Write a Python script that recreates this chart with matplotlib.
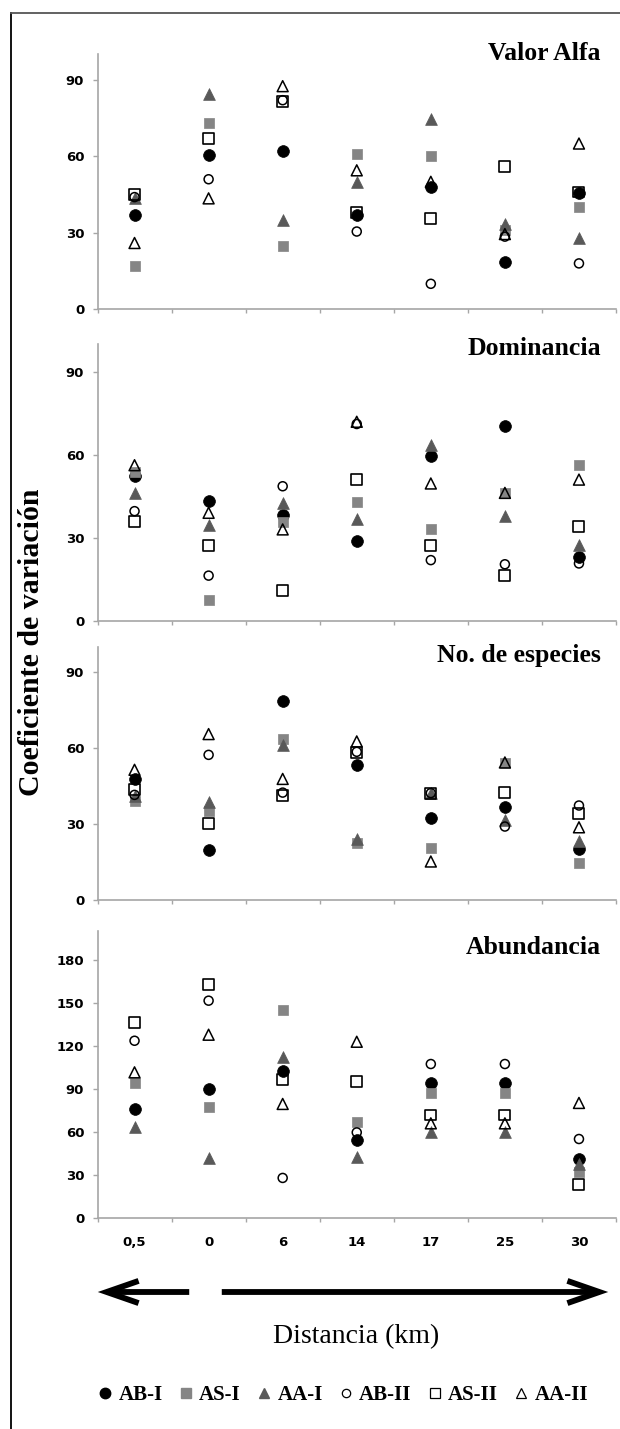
import matplotlib
matplotlib.use("Agg")
import matplotlib.pyplot as plt
from matplotlib.lines import Line2D
from matplotlib.patches import FancyArrowPatch

# ---------------- data ----------------
categories = ['0,5', '0', '6', '14', '17', '25', '30']
series = ['AB-I', 'AS-I', 'AA-I', 'AB-II', 'AS-II', 'AA-II']

# Valor Alfa (rows follow `series`)
alfa_vals = [
    [37.0, 60.5, 62.0, 37.0, 48.0, 18.5, 45.5],   # AB-I
    [17.0, 73.0, 25.0, 61.0, 60.0, 31.0, 40.0],   # AS-I
    [43.5, 84.5, 35.0, 50.0, 74.5, 33.5, 28.0],   # AA-I
    [44.0, 51.0, 82.0, 30.5, 10.0, 28.5, 18.0],   # AB-II
    [45.0, 67.0, 81.5, 38.0, 35.5, 56.0, 46.0],   # AS-II
    [26.0, 43.5, 87.5, 54.5, 50.0, 29.5, 65.0],   # AA-II
]
# Dominancia
dom_vals = [
    [52.5, 43.3, 38.3, 28.9, 59.6, 70.4, 23.2],
    [53.9, 7.6, 35.9, 43.1, 33.4, 46.3, 56.3],
    [46.1, 34.7, 42.7, 36.7, 63.5, 37.9, 27.4],
    [39.7, 16.4, 48.7, 71.2, 22.0, 20.5, 20.8],
    [35.9, 27.2, 10.9, 51.1, 27.2, 16.6, 34.1],
    [56.3, 39.1, 33.1, 72.0, 49.7, 46.3, 51.1],
]
# No. de especies
esp_vals = [
    [47.8, 19.8, 78.4, 53.4, 32.3, 36.9, 20.0],
    [38.9, 35.3, 63.6, 22.7, 20.4, 54.0, 14.5],
    [41.0, 38.5, 61.3, 24.0, 42.4, 31.6, 23.1],
    [41.5, 57.3, 42.4, 58.5, 42.2, 29.0, 37.3],
    [43.7, 30.3, 41.1, 58.4, 42.2, 42.6, 34.3],
    [51.4, 65.5, 47.8, 62.6, 15.2, 54.3, 28.7],
]
# Abundancia
abu_vals = [
    [76.1, 90.0, 102.8, 54.5, 93.9, 93.9, 41.3],
    [93.9, 77.2, 145.0, 66.8, 87.0, 87.0, 32.0],
    [63.8, 41.8, 112.0, 42.4, 60.3, 60.3, 37.8],
    [123.6, 151.5, 28.1, 59.8, 107.4, 107.4, 55.2],
    [136.4, 162.6, 96.3, 95.1, 71.9, 71.9, 23.4],
    [101.6, 127.8, 79.6, 122.9, 66.1, 66.1, 80.3],
]

panel_titles = ['Valor Alfa', 'Dominancia', 'No. de especies', 'Abundancia']
panel_data = [alfa_vals, dom_vals, esp_vals, abu_vals]
panel_ymax = [100, 100, 100, 200]
panel_yticks = [[0, 30, 60, 90], [0, 30, 60, 90], [0, 30, 60, 90],
                [0, 30, 60, 90, 120, 150, 180]]

# ---------------- styles ----------------
GRAY = '#858585'
DARK = '#595959'
styles = [
    dict(marker='o', s=72, facecolors='black', edgecolors='black', linewidths=0.5),
    dict(marker='s', s=62, facecolors=GRAY, edgecolors=GRAY, linewidths=0.5),
    dict(marker='^', s=72, facecolors=DARK, edgecolors=DARK, linewidths=0.5),
    dict(marker='o', s=42, facecolors='none', edgecolors='black', linewidths=1.1),
    dict(marker='s', s=62, facecolors='none', edgecolors='black', linewidths=1.2),
    dict(marker='^', s=62, facecolors='none', edgecolors='black', linewidths=1.1),
]

W, H = 620, 1429
fig = plt.figure(figsize=(W / 100, H / 100), dpi=100)
fig.patch.set_facecolor('white')

# overlay for frame, arrows and free texts (pixel coordinates)
ov = fig.add_axes([0, 0, 1, 1])
ov.set_xlim(0, W)
ov.set_ylim(H, 0)
ov.axis('off')

SERIF = ['Liberation Serif', 'DejaVu Serif']
TICKFONT = dict(family='DejaVu Sans', weight='bold', size=9.5)

# axes vertical extents in pixels (top, bottom)
extents = [(54.3, 309.3), (344.3, 621.0), (646.7, 900.0), (931.0, 1218.3)]
title_y = [53, 348, 655, 947]
x_left, x_right = 97.5, 616.0

xpos = list(range(len(categories)))
for i, (top, bot) in enumerate(extents):
    ax = fig.add_axes([x_left / W, 1 - bot / H, (x_right - x_left) / W, (bot - top) / H])
    ax.set_facecolor('none')
    for j, name in enumerate(series):
        ax.scatter(xpos, panel_data[i][j], zorder=3 + j, clip_on=False, **styles[j])
    ax.set_xlim(-0.5, len(categories) - 0.5)
    ax.set_ylim(0, panel_ymax[i])
    ax.set_yticks(panel_yticks[i])
    ax.set_yticklabels([str(t) for t in panel_yticks[i]], fontdict=TICKFONT)
    for side in ['top', 'right']:
        ax.spines[side].set_visible(False)
    for side in ['left', 'bottom']:
        ax.spines[side].set_color('#a6a6a6')
        ax.spines[side].set_linewidth(1.2)
    ax.tick_params(axis='y', direction='out', length=3.6, width=1.0, color='#a6a6a6', pad=6)
    ax.set_xticks(xpos)
    ax.set_xticks([k - 0.5 for k in range(len(categories) + 1)], minor=True)
    ax.tick_params(axis='x', which='major', length=0, pad=13)
    ax.tick_params(axis='x', which='minor', direction='out', length=3.2, width=1.0, color='#a6a6a6')
    if i == len(extents) - 1:
        ax.set_xticklabels(categories, fontdict=TICKFONT)
    else:
        ax.set_xticklabels([])
    ov.text(601, title_y[i], panel_titles[i], ha='right', va='center',
            family=SERIF, weight='bold', fontsize=18.5)

# figure frame (left and top edges)
ov.plot([10.7, 10.7], [12.7, H], color='black', lw=1.3)
ov.plot([10.7, W], [12.7, 12.7], color='#555555', lw=1.3)

# y label
ov.text(32, 642, 'Coeficiente de variación', rotation=90, ha='center', va='center',
        family=SERIF, weight='bold', fontsize=21.5)

# arrows
for (x0, x1) in [(192, 95), (219, 611)]:
    arr = FancyArrowPatch((x0, 1292), (x1, 1292),
                          arrowstyle='->,head_length=1.15,head_width=0.4',
                          mutation_scale=20, lw=4.2, color='black',
                          capstyle='butt', joinstyle='miter')
    ov.add_patch(arr)

ov.text(356, 1337, 'Distancia (km)', ha='center', va='center', family=SERIF, fontsize=20)

# legend
handles = [
    Line2D([], [], ls='none', marker='o', ms=7.5, mfc='black', mec='black'),
    Line2D([], [], ls='none', marker='s', ms=7, mfc=GRAY, mec=GRAY),
    Line2D([], [], ls='none', marker='^', ms=7, mfc=DARK, mec=DARK),
    Line2D([], [], ls='none', marker='o', ms=6, mfc='none', mec='black', mew=0.9),
    Line2D([], [], ls='none', marker='s', ms=7, mfc='none', mec='black', mew=0.9),
    Line2D([], [], ls='none', marker='^', ms=7, mfc='none', mec='black', mew=0.9),
]
fig.legend(handles, series, ncol=6, loc='center', bbox_to_anchor=(343 / W, 1 - 1395 / H),
           frameon=False, handlelength=0.7, handletextpad=0.3, columnspacing=0.75,
           borderaxespad=0, borderpad=0,
           prop=dict(family=SERIF, weight='bold', size=15))

fig.savefig('out.png', dpi=100, facecolor='white')
